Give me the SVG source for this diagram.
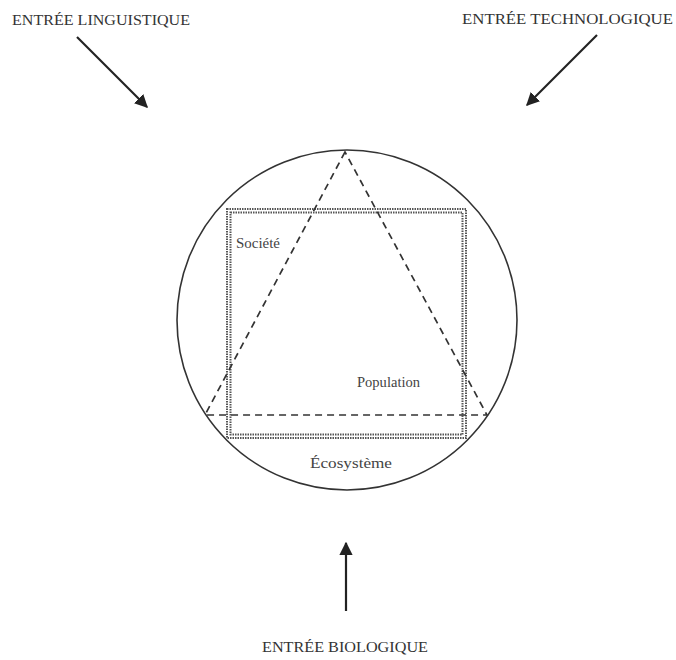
<svg xmlns="http://www.w3.org/2000/svg" width="676" height="660" viewBox="0 0 676 660">
<defs>
<marker id="ah" viewBox="0 0 10 10" refX="9" refY="5" markerWidth="6" markerHeight="6" orient="auto" markerUnits="strokeWidth">
<path d="M0,0 L10,5 L0,10 z" fill="#222"/>
</marker>
<style>
.lbl{font-family:"Liberation Serif","Times New Roman",serif;font-size:15px;fill:#333}
.in{font-family:"Liberation Serif","Times New Roman",serif;font-size:15px;fill:#444}
.arr{stroke:#222;stroke-width:2.2;fill:none;marker-end:url(#ah)}
.dot{fill:none;stroke:#555;stroke-width:2;stroke-dasharray:1.5 1}
.dash{fill:none;stroke:#333;stroke-width:1.7;stroke-dasharray:7 5}
</style>
</defs>
<rect width="676" height="660" fill="#fff"/>
<g id="circle"><circle cx="347" cy="320" r="170" fill="none" stroke="#333" stroke-width="1.6"/></g>
<g id="societe">
<rect class="dot" x="227" y="209" width="239" height="229"/>
<rect class="dot" x="230.5" y="212.5" width="232" height="222"/>
<text class="in" x="236" y="248" textLength="44" lengthAdjust="spacingAndGlyphs">Société</text>
</g>
<g id="population">
<path class="dash" d="M345,152 L205,415 L487,415 Z"/>
<text class="in" x="357" y="387" textLength="63" lengthAdjust="spacingAndGlyphs">Population</text>
</g>
<g id="ecosysteme"><text class="in" x="310" y="468" textLength="82" lengthAdjust="spacingAndGlyphs">Écosystème</text></g>
<g id="entree-linguistique"><text class="lbl" x="12" y="25" textLength="178" lengthAdjust="spacingAndGlyphs">ENTRÉE LINGUISTIQUE</text></g>
<g id="entree-technologique"><text class="lbl" x="462" y="24" textLength="211" lengthAdjust="spacingAndGlyphs">ENTRÉE TECHNOLOGIQUE</text></g>
<g id="entree-biologique"><text class="lbl" x="262" y="652" textLength="166" lengthAdjust="spacingAndGlyphs">ENTRÉE BIOLOGIQUE</text></g>
<g id="connectors">
<line class="arr" x1="77" y1="37" x2="147" y2="107"/>
<line class="arr" x1="597" y1="35" x2="527" y2="105"/>
<line class="arr" x1="346" y1="611" x2="346" y2="543"/>
</g>
</svg>
